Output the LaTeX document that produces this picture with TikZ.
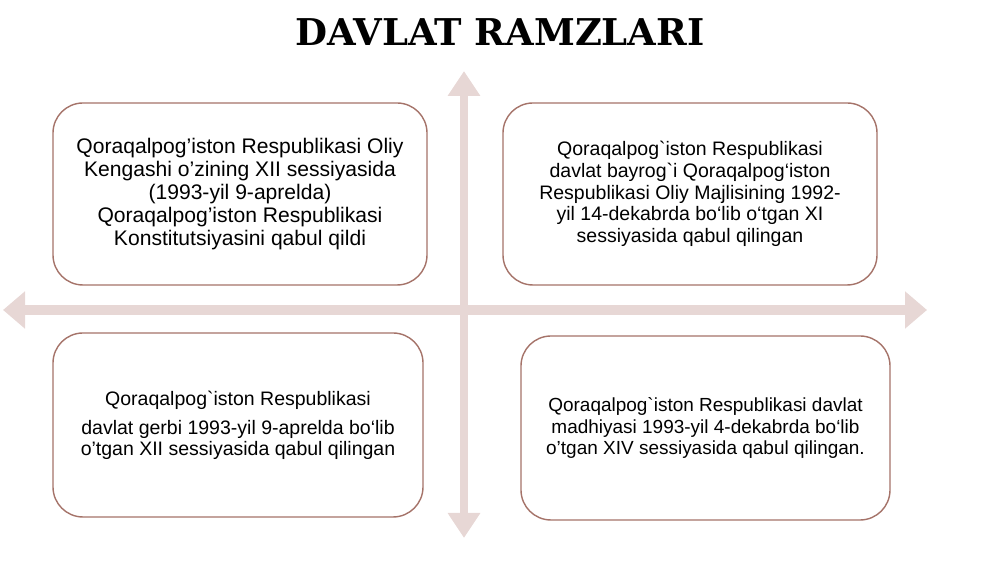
\documentclass[tikz,border=0pt]{standalone}
\usepackage{fontspec}
\setmainfont{Liberation Sans}[Ligatures=TeXOff]
\newfontfamily\titlefont{DejaVu Serif}
\usetikzlibrary{arrows.meta,positioning}
\definecolor{axiscol}{RGB}{231,215,213}
\definecolor{cardcol}{RGB}{165,115,105}

\begin{document}
\begin{tikzpicture}[
	axis/.style={draw=axiscol, line width=0.19cm},
	card/.style={draw=cardcol, line width=0.8pt, rounded corners=0.6cm, fill=white, align=center, inner sep=0pt}]
	\useasboundingbox (0,0) rectangle (20,11.24);
	\node at (10,10.6) (title) {\titlefont\bfseries\fontsize{21}{25}\selectfont DAVLAT RAMZLARI};
	% axes
	\coordinate (west) at (0.06,5.04);
	\coordinate (east) at (18.54,5.04);
	\coordinate (north) at (9.28,9.82);
	\coordinate (south) at (9.28,0.48);
	\draw[axis, {Triangle[length=0.44cm,width=0.72cm]}-{Triangle[length=0.44cm,width=0.72cm]}] (west) -- (east);
	\draw[axis, line width=0.16cm, {Triangle[length=0.5cm,width=0.62cm]}-{Triangle[length=0.5cm,width=0.62cm]}] (north) -- (south);
	% cards
	\node[card, minimum width=7.48cm, minimum height=3.64cm, font=\fontsize{12}{13}\selectfont] at (4.8,7.36) (konst) {Qoraqalpog’iston Respublikasi Oliy\\ Kengashi o’zining XII sessiyasida\\ (1993-yil 9-aprelda)\\ Qoraqalpog’iston Respublikasi\\ Konstitutsiyasini qabul qildi};
	\node[card, minimum width=7.48cm, minimum height=3.64cm, font=\fontsize{11.1}{12.3}\selectfont] at (13.8,7.36) (bayroq) {Qoraqalpog`iston Respublikasi\\ davlat bayrog`i Qoraqalpog‘iston\\ Respublikasi Oliy Majlisining 1992-\\ yil 14-dekabrda bo‘lib o‘tgan XI\\ sessiyasida qabul qilingan};
	\node[card, minimum width=7.4cm, minimum height=3.68cm, font=\fontsize{11.1}{12}\selectfont] at (4.76,2.74) (gerb) {Qoraqalpog`iston Respublikasi\\[4.5pt] davlat gerbi 1993-yil 9-aprelda bo‘lib\\ o’tgan XII sessiyasida qabul qilingan};
	\node[card, minimum width=7.38cm, minimum height=3.68cm, font=\fontsize{10.8}{12.3}\selectfont] at (14.11,2.68) (madhiya) {Qoraqalpog`iston Respublikasi davlat\\ madhiyasi 1993-yil 4-dekabrda bo‘lib\\ o’tgan XIV sessiyasida qabul qilingan.};
\end{tikzpicture}
\end{document}
